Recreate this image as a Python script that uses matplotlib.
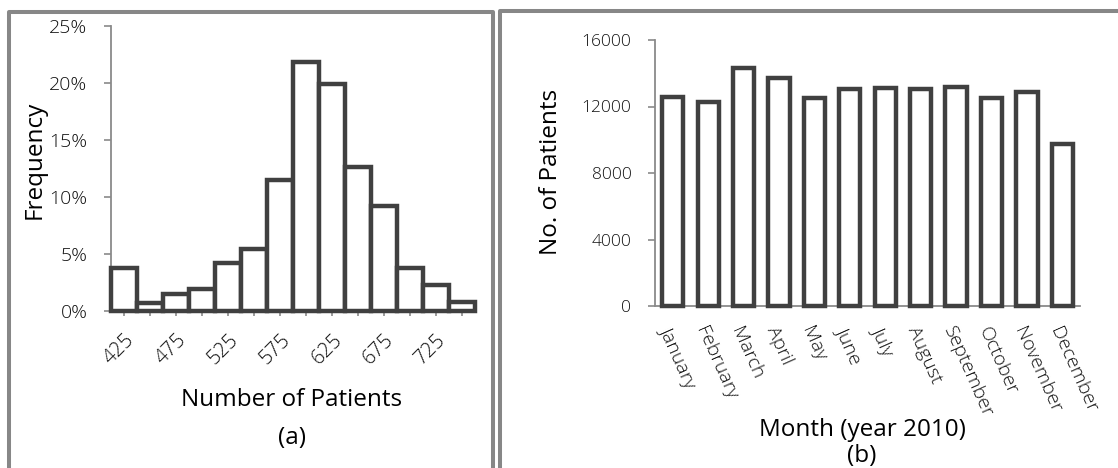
import numpy as np
import matplotlib
matplotlib.use("Agg")
import matplotlib.pyplot as plt
from matplotlib.lines import Line2D

# ---------------- data ----------------
bins = [425, 450, 475, 500, 525, 550, 575, 600, 625, 650, 675, 700, 725, 750]
freq_pct = [3.8, 0.7, 1.5, 1.9, 4.2, 5.4, 11.5, 21.8, 19.9, 12.6, 9.2, 3.8, 2.3, 0.8]
freq_ticks = [0, 5, 10, 15, 20, 25]

months = ["January", "February", "March", "April", "May", "June", "July",
          "August", "September", "October", "November", "December"]
patients = [12600, 12300, 14300, 13700, 12500, 13050, 13100, 13050, 13200,
            12500, 12900, 9750]
patient_ticks = [0, 4000, 8000, 12000, 16000]

# ---------------- style ----------------
plt.rcParams["font.family"] = ["Open Sans", "DejaVu Sans"]
W, H = 1118, 468
EDGE = "#404040"
SPINE = "#8a8a8a"
BORDER = "#878787"
TXT = "#111111"
TW = "light"

fig = plt.figure(figsize=(W / 100, H / 100), dpi=100)
fig.patch.set_facecolor("white")


def rect(x0, y0, x1, y1):
    return [x0 / W, 1 - y1 / H, (x1 - x0) / W, (y1 - y0) / H]


def style_axes(ax):
    for s in ("top", "right"):
        ax.spines[s].set_visible(False)
    for s in ("left", "bottom"):
        ax.spines[s].set_color(SPINE)
        ax.spines[s].set_linewidth(1.3)
    ax.set_facecolor("none")


# ---------------- panel (a) ----------------
ax1 = fig.add_axes(rect(111, 26, 475, 311))
style_axes(ax1)
x1 = np.arange(len(bins))
ax1.bar(x1, freq_pct, width=1.0, color="white", edgecolor=EDGE,
        linewidth=3.2, clip_on=False, zorder=3)
ax1.set_xlim(-0.5, len(bins) - 0.5)
ax1.set_ylim(0, 25)
ax1.set_yticks(freq_ticks)
ax1.set_yticklabels([f"{v}%" for v in freq_ticks], fontsize=14, color=TXT,
                    fontweight=TW)
ax1.set_xticks(x1)
ax1.set_xticklabels([str(b) if i % 2 == 0 else "" for i, b in enumerate(bins)],
                    rotation=45, ha="right", va="top", rotation_mode="anchor",
                    fontsize=14.5, color=TXT, fontweight=TW)
ax1.tick_params(axis="y", length=5, width=1.2, color=SPINE, pad=12)
ax1.tick_params(axis="x", length=3.5, width=1.2, color=SPINE, pad=10)

fig.text(35 / W, 1 - 160 / H, "Frequency", rotation=90, ha="center",
         va="center", fontsize=17.5, color="black")
fig.text(292 / W, 1 - 400 / H, "Number of Patients", ha="center",
         va="center", fontsize=17.5, color="black")
fig.text(292 / W, 1 - 438 / H, "(a)", ha="center", va="center",
         fontsize=17.5, color="black")

# ---------------- panel (b) ----------------
ax2 = fig.add_axes(rect(655, 40, 1080, 306))
style_axes(ax2)
x2 = np.arange(len(months))
ax2.bar(x2, patients, width=0.6, color="white", edgecolor=EDGE,
        linewidth=3.2, clip_on=False, zorder=3)
ax2.set_xlim(-0.5, len(months) - 0.5)
ax2.set_ylim(0, 16000)
ax2.set_yticks(patient_ticks)
ax2.set_yticklabels([str(v) for v in patient_ticks], fontsize=12.5, color=TXT,
                    fontweight=TW)
ax2.set_xticks(x2)
ax2.set_xticklabels(months, rotation=-66, ha="left", va="top",
                    rotation_mode="anchor", fontsize=14, color=TXT,
                    fontweight=TW)
ax2.tick_params(axis="y", length=5, width=1.2, color=SPINE, pad=12)
ax2.tick_params(axis="x", length=0, pad=13)

fig.text(551 / W, 1 - 172 / H, "No. of Patients", rotation=90, ha="center",
         va="center", fontsize=17.5, color="black")
fig.text(862 / W, 1 - 430 / H, "Month (year 2010)", ha="center",
         va="center", fontsize=17.5, color="black")
fig.text(862 / W, 1 - 456 / H, "(b)", ha="center", va="center",
         fontsize=17.5, color="black")

# ---------------- panel borders ----------------
lw_b = 2.9
def fline(xs, ys):
    fig.add_artist(Line2D([x / W for x in xs], [1 - y / H for y in ys],
                          color=BORDER, linewidth=lw_b,
                          solid_capstyle="projecting"))

fline([9, 9, 492.5, 492.5], [470, 11.5, 11.5, 470])
fline([499.5, 499.5, 1120], [470, 11, 11])

fig.savefig("out.png", dpi=100, facecolor="white")
